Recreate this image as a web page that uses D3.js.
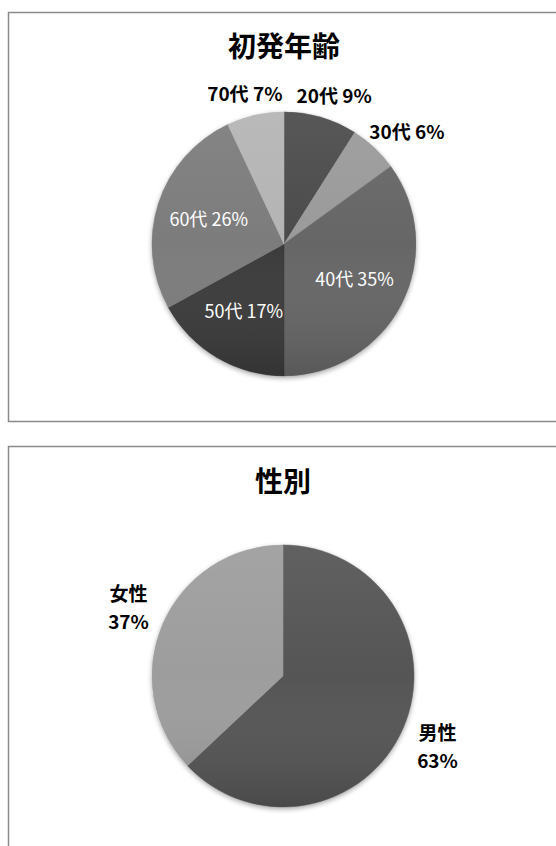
<!DOCTYPE html>
<html>
<head>
<meta charset="utf-8">
<script src="https://cdn.jsdelivr.net/npm/d3@7"></script>
<style>
html,body{margin:0;padding:0;background:#fff;}
svg{display:block;}
</style>
</head>
<body>
<script>
// ---- data ----
const ageTitle = "初発年齢";
const ageCategories = ["20代", "30代", "40代", "50代", "60代", "70代"];
const ageValues = [9, 6, 35, 17, 26, 7];
const ageColors = ["#4b4b4b", "#9a9a9a", "#666666", "#3a3a3a", "#7b7b7b", "#b4b4b4"];
const ageInside = [false, false, true, true, true, false];

const sexTitle = "性別";
const sexCategories = ["男性", "女性"];
const sexValues = [63, 37];
const sexColors = ["#555555", "#9d9d9d"];
const sexInside = [false, false];

const W = 556, H = 846;
const svg = d3.select("body").append("svg").attr("width", W).attr("height", H);
const defs = svg.append("defs");

const shade = defs.append("linearGradient").attr("id", "shade")
  .attr("x1", 0).attr("y1", 0).attr("x2", 0).attr("y2", 1);
shade.append("stop").attr("offset", 0).attr("stop-color", "#fff").attr("stop-opacity", 0.07);
shade.append("stop").attr("offset", 0.5).attr("stop-color", "#fff").attr("stop-opacity", 0);
shade.append("stop").attr("offset", 1).attr("stop-color", "#000").attr("stop-opacity", 0.14);

const shadow = defs.append("filter").attr("id", "sh").attr("x", "-20%").attr("y", "-20%").attr("width", "140%").attr("height", "140%");
shadow.append("feGaussianBlur").attr("in", "SourceAlpha").attr("stdDeviation", 2.5).attr("result", "b");
shadow.append("feOffset").attr("in", "b").attr("dy", 2).attr("result", "o");
shadow.append("feComponentTransfer").attr("in", "o").attr("result", "o2")
  .append("feFuncA").attr("type", "linear").attr("slope", 0.35);
const m = shadow.append("feMerge");
m.append("feMergeNode").attr("in", "o2");
m.append("feMergeNode").attr("in", "SourceGraphic");

const FONT = "'Noto Sans CJK JP', 'Noto Sans', sans-serif";

function panel(cfg) {
  const g = svg.append("g");
  g.append("rect")
    .attr("x", cfg.px).attr("y", cfg.py).attr("width", cfg.pw).attr("height", cfg.ph)
    .attr("fill", "#fff").attr("stroke", "#8a8a8a").attr("stroke-width", 1.5);
  g.append("text")
    .attr("x", cfg.cx).attr("y", cfg.titleY)
    .attr("text-anchor", "middle")
    .attr("font-family", FONT).attr("font-weight", "bold").attr("font-size", 28)
    .attr("fill", "#000").text(cfg.title);

  const data = cfg.categories.map((c, i) => ({ cat: c, val: cfg.values[i], color: cfg.colors[i], inside: cfg.inside[i] }));
  const pie = d3.pie().sort(null).value(d => d.val);
  const arcs = pie(data);
  const arc = d3.arc().innerRadius(0).outerRadius(cfg.r);
  const pg = g.append("g").attr("transform", `translate(${cfg.cx},${cfg.cy})`);
  const slices = pg.append("g").attr("filter", "url(#sh)");
  slices.selectAll("path").data(arcs).join("path")
    .attr("d", arc).attr("fill", d => d.data.color)
    .attr("stroke", d => d.data.color).attr("stroke-width", 0.5);
  pg.append("circle").attr("r", cfg.r).attr("fill", "url(#shade)");

  const inArc = d3.arc().innerRadius(cfg.r * 0.6).outerRadius(cfg.r * 0.6);
  arcs.forEach(a => {
    const pct = Math.round(a.data.val / d3.sum(cfg.values) * 100) + "%";
    if (a.data.inside) {
      const [x, y] = inArc.centroid(a);
      pg.append("text").attr("x", x).attr("y", y).attr("dy", "0.35em")
        .attr("text-anchor", "middle")
        .attr("font-family", FONT).attr("font-size", 18).attr("fill", "#fff")
        .text(a.data.cat + " " + pct);
    } else {
      const mid = (a.startAngle + a.endAngle) / 2;
      const R = cfg.r + cfg.labelGap;
      const px = R * Math.sin(mid), py = -R * Math.cos(mid);
      const t = pg.append("text")
        .attr("font-family", FONT).attr("font-weight", "bold").attr("font-size", cfg.labelSize)
        .attr("fill", "#000").attr("text-anchor", "middle");
      if (cfg.twoLine) {
        t.append("tspan").attr("x", 0).attr("dy", 0).text(a.data.cat);
        t.append("tspan").attr("x", 0).attr("dy", cfg.lineH).text(pct);
      } else {
        t.text(a.data.cat + " " + pct);
      }
      const bb = t.node().getBBox();
      const bcx = px + Math.sin(mid) * bb.width / 2;
      const bcy = py - Math.cos(mid) * bb.height / 2;
      const curCx = bb.x + bb.width / 2, curCy = bb.y + bb.height / 2;
      t.attr("transform", `translate(${bcx - curCx},${bcy - curCy})`);
    }
  });
}

panel({
  px: 8.5, py: 12.5, pw: 560, ph: 409,
  cx: 284, cy: 244, r: 132, titleY: 57,
  title: ageTitle, categories: ageCategories, values: ageValues, colors: ageColors, inside: ageInside,
  labelGap: 10, labelSize: 19, twoLine: false
});
panel({
  px: 8.5, py: 446.5, pw: 560, ph: 420,
  cx: 283, cy: 676, r: 131, titleY: 492,
  title: sexTitle, categories: sexCategories, values: sexValues, colors: sexColors, inside: sexInside,
  labelGap: 17, labelSize: 19, twoLine: true, lineH: 28
});
</script>
</body>
</html>
